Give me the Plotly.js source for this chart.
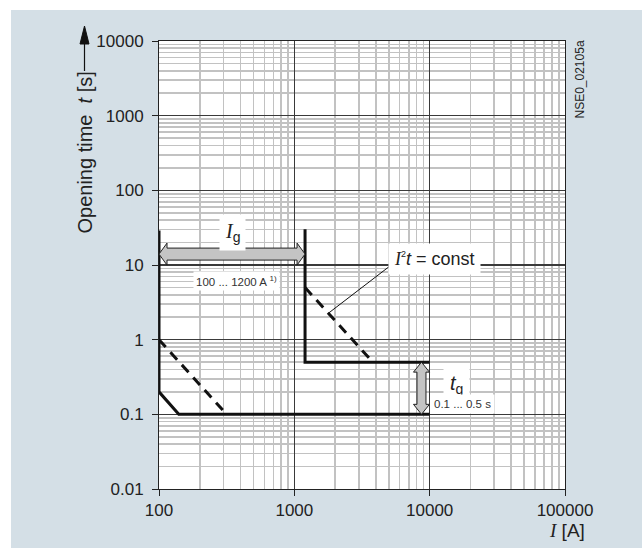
<!DOCTYPE html>
<html><head><meta charset="utf-8">
<script src="https://cdn.plot.ly/plotly-3.0.1.min.js"></script>
<style>html,body{margin:0;padding:0;background:#fff;} #chart{width:642px;height:548px;}</style>
</head><body><div id="chart"></div>
<script>
// ---- data ----
const xTickVals = [100, 1000, 10000, 100000];
const xTickText = ['100', '1000', '10000', '100000'];
const yTickVals = [0.01, 0.1, 1, 10, 100, 1000, 10000];
const yTickText = ['0.01', '0.1', '1', '10', '100', '1000', '10000'];

const curveA_I = [100, 100, 140, 10000];
const curveA_t = [29, 0.2, 0.1, 0.1];
const i2tA_I = [100, 316];
const i2tA_t = [1, 0.1];
const curveB_I = [1200, 1200, 10000];
const curveB_t = [30, 0.5, 0.5];
const i2tB_I = [1200, 3800];
const i2tB_t = [5, 0.5];
const IgRange_I = [100, 1200];
const IgArrow_t = 14;
const tgRange_t = [0.5, 0.1];
const tgArrow_I = 8700;
const leader_I = [1780, 5200];
const leader_t = [2.25, 10];

// ---- layout geometry ----
const W = 642, H = 548;
const M = {l: 159, r: 77, t: 41, b: 59, pad: 0};
const plotW = W - M.l - M.r, plotH = H - M.t - M.b;
const xRange = [2, 5], yRange = [-2, 4];
const kx = (xRange[1] - xRange[0]) / plotW;  // log units per px
const ky = (yRange[1] - yRange[0]) / plotH;
const pX = px => (px - M.l) / plotW;
const pY = py => (H - M.b - py) / plotH;
const L = Math.log10;
const P = v => Math.pow(10, v);

function minorVals(d0, d1) {
  const out = [];
  for (let d = d0; d < d1; d++) for (let m = 2; m <= 9; m++) out.push(m * Math.pow(10, d));
  return out;
}

function hArrow(x0, x1, y, headLen, shaftHalf, headHalf) {
  const a = L(x0), b = L(x1), c = L(y);
  const hl = headLen * kx, sh = shaftHalf * ky, hh = headHalf * ky;
  const pts = [[a, c], [a + hl, c + hh], [a + hl, c + sh], [b - hl, c + sh], [b - hl, c + hh], [b, c],
    [b - hl, c - hh], [b - hl, c - sh], [a + hl, c - sh], [a + hl, c - hh], [a, c]];
  return {x: pts.map(p => P(p[0])), y: pts.map(p => P(p[1]))};
}
function vArrow(x, y0, y1, headLen, shaftHalf, headHalf) {
  const c = L(x), a = L(y0), b = L(y1); // a top, b bottom
  const hl = headLen * ky, sh = shaftHalf * kx, hh = headHalf * kx;
  const pts = [[c, a], [c + hh, a - hl], [c + sh, a - hl], [c + sh, b + hl], [c + hh, b + hl], [c, b],
    [c - hh, b + hl], [c - sh, b + hl], [c - sh, a - hl], [c - hh, a - hl], [c, a]];
  return {x: pts.map(p => P(p[0])), y: pts.map(p => P(p[1]))};
}

const black = '#111';
const base = {type: 'scatter', mode: 'lines', hoverinfo: 'skip', showlegend: false};
const ha = hArrow(IgRange_I[0], IgRange_I[1], IgArrow_t, 8, 6, 11);
const va = vArrow(tgArrow_I, tgRange_t[0], tgRange_t[1], 10, 4.5, 8);

const traces = [
  Object.assign({}, base, {x: curveA_I, y: curveA_t, line: {color: black, width: 3}}),
  Object.assign({}, base, {x: i2tA_I, y: i2tA_t, line: {color: black, width: 3, dash: '10px,7px'}}),
  Object.assign({}, base, {x: curveB_I, y: curveB_t, line: {color: black, width: 3}}),
  Object.assign({}, base, {x: i2tB_I, y: i2tB_t, line: {color: black, width: 3, dash: '10px,7px'}}),
  Object.assign({}, base, {x: leader_I, y: leader_t, line: {color: black, width: 1}}),
  Object.assign({}, base, {x: ha.x, y: ha.y, fill: 'toself', fillcolor: '#c4c4c4', line: {color: '#222', width: 1}}),
  Object.assign({}, base, {x: va.x, y: va.y, fill: 'toself', fillcolor: '#c4c4c4', line: {color: '#222', width: 1}})
];

const tickFont = {family: 'Liberation Sans, Arial, sans-serif', size: 17, color: '#222'};
const axisCommon = {
  type: 'log', showline: true, mirror: true, linecolor: '#222', linewidth: 1,
  ticks: 'outside', ticklen: 6, tickcolor: '#222', tickwidth: 1,
  showgrid: true, gridcolor: '#3a3a3a', gridwidth: 1.1, zeroline: false,
  tickmode: 'array', tickfont: tickFont, fixedrange: true
};

const serifI = '<span style="font-family:Liberation Serif, Times New Roman, serif"><i>I</i></span>';
const sans = 'Liberation Sans, Arial, sans-serif';

const annotations = [
  {xref: 'paper', yref: 'paper', x: pX(84), y: pY(152.5), xanchor: 'center', yanchor: 'middle', textangle: -90,
   text: 'Opening time&nbsp; <i>t</i> [s]', showarrow: false, font: {family: sans, size: 20, color: '#222'}},
  {xref: 'paper', yref: 'paper', x: pX(587), y: pY(530), xanchor: 'right', yanchor: 'middle',
   text: serifI + ' [A]', showarrow: false, font: {family: sans, size: 19, color: '#222'}},
  {xref: 'paper', yref: 'paper', x: pX(579), y: pY(79.5), xanchor: 'center', yanchor: 'middle', textangle: -90,
   text: 'NSE0_02105a', showarrow: false, font: {family: sans, size: 12, color: '#222'}},
  {x: L(350), y: L(27), text: serifI + '<sub>g</sub>', showarrow: false, bgcolor: '#fff', borderpad: 5,
   font: {family: sans, size: 20, color: '#222'}},
  {x: L(371), y: L(6.1), text: '100 ... 1200 A <sup>1)</sup>', showarrow: false, bgcolor: '#fff', borderpad: 2,
   font: {family: sans, size: 11.5, color: '#333'}},
  {x: L(10900), y: L(12), text: serifI + '<sup><span style="font-size:9px">2</span></sup><i>t</i> = const', showarrow: false, bgcolor: '#fff', borderpad: 5,
   font: {family: sans, size: 18, color: '#222'}},
  {x: L(15900), y: L(0.25), text: '<i>t</i><sub>g</sub>', showarrow: false, bgcolor: '#fff', borderpad: 6,
   font: {family: sans, size: 20, color: '#222'}},
  {x: L(17600), y: L(0.138), text: '0.1 ... 0.5 s', showarrow: false, bgcolor: '#fff', borderpad: 3,
   font: {family: sans, size: 11.5, color: '#333'}}
];

const shapes = [
  {type: 'rect', xref: 'paper', yref: 'paper', x0: pX(0), x1: pX(W), y0: pY(0), y1: pY(10), fillcolor: '#fff', line: {width: 0}, layer: 'below'},
  {type: 'rect', xref: 'paper', yref: 'paper', x0: pX(0), x1: pX(11), y0: pY(0), y1: pY(H), fillcolor: '#fff', line: {width: 0}, layer: 'below'},
  {type: 'line', xref: 'paper', yref: 'paper', x0: pX(84.5), x1: pX(84.5), y0: pY(71), y1: pY(40), line: {color: '#111', width: 1.2}},
  {type: 'path', xref: 'paper', yref: 'paper',
   path: 'M' + pX(84.5) + ',' + pY(26) + ' L' + pX(89) + ',' + pY(44) + ' L' + pX(80) + ',' + pY(44) + ' Z',
   fillcolor: '#111', line: {color: '#111', width: 1}}
];

const layout = {
  width: W, height: H, margin: M,
  paper_bgcolor: '#d4dfe6', plot_bgcolor: '#ffffff',
  showlegend: false,
  xaxis: Object.assign({}, axisCommon, {range: xRange, tickvals: xTickVals, ticktext: xTickText, ticklabelstandoff: 0,
    minor: {tickmode: 'array', tickvals: minorVals(2, 5), ticks: '', showgrid: true, gridcolor: '#c2c2c2', gridwidth: 1.6}}),
  yaxis: Object.assign({}, axisCommon, {range: yRange, tickvals: yTickVals, ticktext: yTickText, ticklabelstandoff: 5,
    minor: {tickmode: 'array', tickvals: minorVals(-2, 4), ticks: '', showgrid: true, gridcolor: '#c2c2c2', gridwidth: 1.6}}),
  annotations: annotations,
  shapes: shapes
};

Plotly.newPlot('chart', traces, layout, {displayModeBar: false, staticPlot: true});
</script>
</body></html>
